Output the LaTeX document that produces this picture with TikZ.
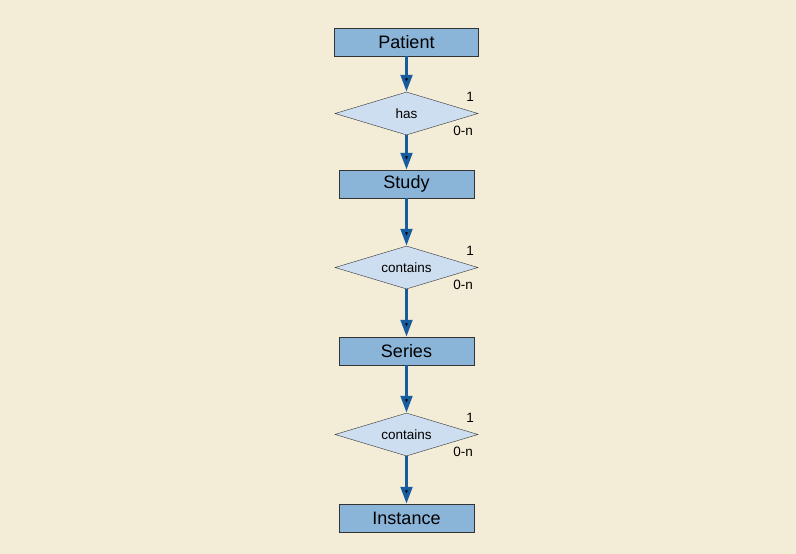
\documentclass[tikz,border=0pt]{standalone}
\usepackage{fontspec}
\setmainfont{Liberation Sans}
\usetikzlibrary{arrows.meta}
\usetikzlibrary{shapes.geometric}
\usetikzlibrary{positioning}

\definecolor{bgcream}{RGB}{243,236,215}
\definecolor{entfill}{RGB}{138,180,216}
\definecolor{relfill}{RGB}{205,222,240}
\definecolor{linkblue}{RGB}{24,92,160}

\tikzset{
  entity/.style={draw=black!80,fill=entfill,rectangle,minimum height=28pt,
    inner sep=0pt,font=\fontsize{18}{20}\selectfont},
  relation/.style={draw=black!80,fill=relfill,diamond,minimum width=143pt,
    minimum height=43pt,inner sep=0pt,aspect=3.3,font=\fontsize{13.5}{15}\selectfont},
  card/.style={inner sep=0pt,font=\fontsize{13.5}{15}\selectfont},
  link/.style={draw=linkblue,line width=3.3pt,-{Triangle[width=11.5pt,length=17pt]}}
}

\begin{document}
\begin{tikzpicture}[x=1pt,y=-1pt]

  \fill [bgcream] (0,0) rectangle (796,554);

  \node [entity,minimum width=144pt] (patient) at (406.5,42) {Patient};
  \node [relation] (has) at (406.5,113.5) {has};
  \node [entity,minimum width=135pt] (study) at (406.5,184) {Study};
  \node [relation] (contains1) at (406.5,267.5) {contains};
  \node [entity,minimum width=135pt] (series) at (406.5,351) {Series};
  \node [relation] (contains2) at (406.5,434.5) {contains};
  \node [entity,minimum width=135pt] (instance) at (406.5,518) {Instance};

  \node [card] (has_one) at ([shift={(-8,-17)}]has.east) {1};
  \node [card] (has_many) at ([shift={(-15,17)}]has.east) {0-n};
  \node [card] (contains1_one) at ([shift={(-8,-17)}]contains1.east) {1};
  \node [card] (contains1_many) at ([shift={(-15,17)}]contains1.east) {0-n};
  \node [card] (contains2_one) at ([shift={(-8,-17)}]contains2.east) {1};
  \node [card] (contains2_many) at ([shift={(-15,17)}]contains2.east) {0-n};

  \path [link]
    (patient) edge (has)
    (has) edge (study)
    (study) edge (contains1)
    (contains1) edge (series)
    (series) edge (contains2)
    (contains2) edge (instance);

\end{tikzpicture}
\end{document}
